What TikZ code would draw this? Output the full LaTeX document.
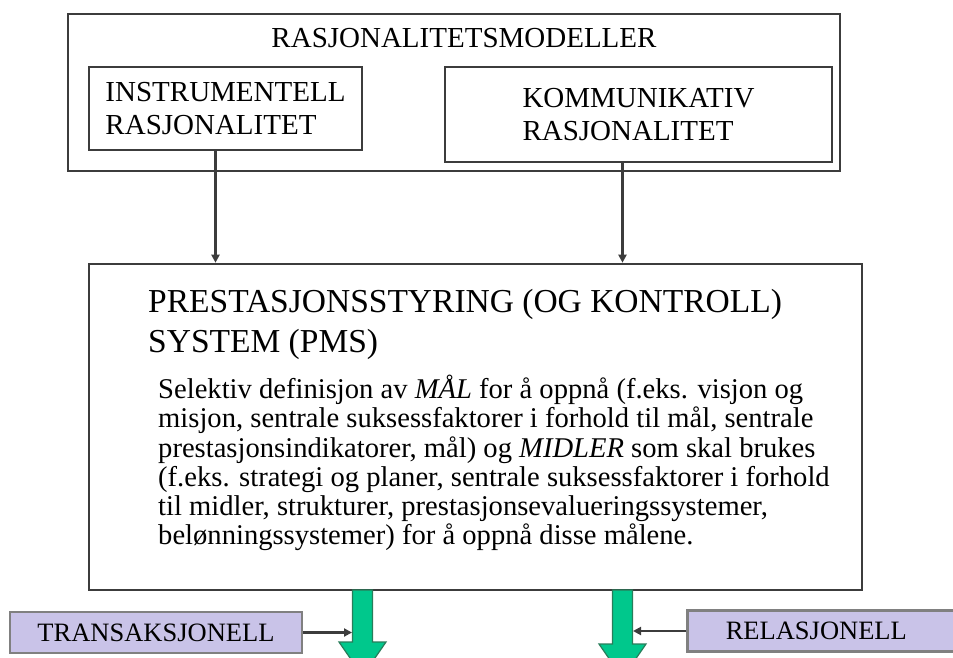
\documentclass[tikz,border=0pt]{standalone}
\usepackage{fontspec}
\setmainfont{Liberation Serif}
\usetikzlibrary{arrows.meta}
\definecolor{edge}{RGB}{60,60,60}
\definecolor{lavender}{RGB}{201,195,232}
\definecolor{flowgreen}{RGB}{0,200,140}
\definecolor{flowedge}{RGB}{40,125,90}
\tikzset{
  box/.style = {draw=edge, line width=2.6pt, fill=white, inner sep=0pt},
  tag/.style = {draw=gray, line width=2.6pt, fill=lavender, inner sep=0pt,
    minimum height=41pt, font=\fontsize{26.5}{30}\selectfont},
  link/.style = {draw=edge, line width=2.4pt, -{Triangle[length=8pt,width=8pt]}},
  flow/.style = {fill=flowgreen, draw=flowedge, line width=1.2pt, line join=miter}
}

\begin{document}
\begin{tikzpicture}[x=1pt,y=-1pt]
  \useasboundingbox (0,0) rectangle (953,657);
  \clip (0,0) rectangle (953,657);
  % rasjonalitetsmodeller
  \node[box, minimum width=772pt, minimum height=157pt] (models) at (454,92.5) {};
  \node[anchor=base, font=\fontsize{29}{33}\selectfont] (title) at (464,47) {RASJONALITETSMODELLER};
  \node[box, minimum width=273pt, minimum height=83pt, align=left,
    font=\fontsize{29}{33}\selectfont] (instr) at (225.5,108.5) {INSTRUMENTELL\\RASJONALITET};
  \node[box, minimum width=387pt, minimum height=95pt, align=left,
    font=\fontsize{29}{33}\selectfont] (komm) at (638.5,114.5) {KOMMUNIKATIV\\RASJONALITET};
  % PMS
  \node[box, minimum width=773pt, minimum height=326pt] (pms) at (475.5,427) {};
  \node[anchor=north west, inner sep=0pt, align=left, font=\fontsize{33.5}{40}\selectfont]
    (pmshead) at (148,289) {PRESTASJONSSTYRING (OG KONTROLL)\\SYSTEM (PMS)};
  \node[anchor=north west, inner sep=0pt, align=left, font=\fontsize{28.6}{29.2}\selectfont]
    (pmstext) at (158,375) {Selektiv definisjon av \textit{MÅL} for å oppnå (f.eks. visjon og\\
    misjon, sentrale suksessfaktorer i forhold til mål, sentrale\\
    prestasjonsindikatorer, mål) og \textit{MIDLER} som skal brukes\\
    (f.eks. strategi og planer, sentrale suksessfaktorer i forhold\\
    til midler, strukturer, prestasjonsevalueringssystemer,\\
    belønningssystemer) for å oppnå disse målene.};
  \draw[link] ([xshift=-10pt]instr.south) -- ([xshift=-10pt]instr.south |- pms.north);
  \draw[link] ([xshift=-16pt]komm.south) -- ([xshift=-16pt]komm.south |- pms.north);
  % green arrows
  \foreach \x/\y in {362.5/642, 622.5/644}
    \draw[flow] (\x-10,590) -- (\x-10,\y) -- (\x-23.5,\y) -- (\x,\y+34)
      -- (\x+23.5,\y) -- (\x+10,\y) -- (\x+10,590) -- cycle;
  \coordinate (tarrow) at (352,632.5);
  \coordinate (rarrow) at (633,631);
  % styringsformer
  \node[tag, minimum width=292pt] (trans) at (156,632.5) {TRANSAKSJONELL};
  \node[tag, minimum width=274pt, anchor=west] (rel) at (686,631) {\hspace*{-16pt}RELASJONELL};
  \draw[link] (trans) -- (tarrow);
  \draw[link] (rel) -- (rarrow);
\end{tikzpicture}
\end{document}
